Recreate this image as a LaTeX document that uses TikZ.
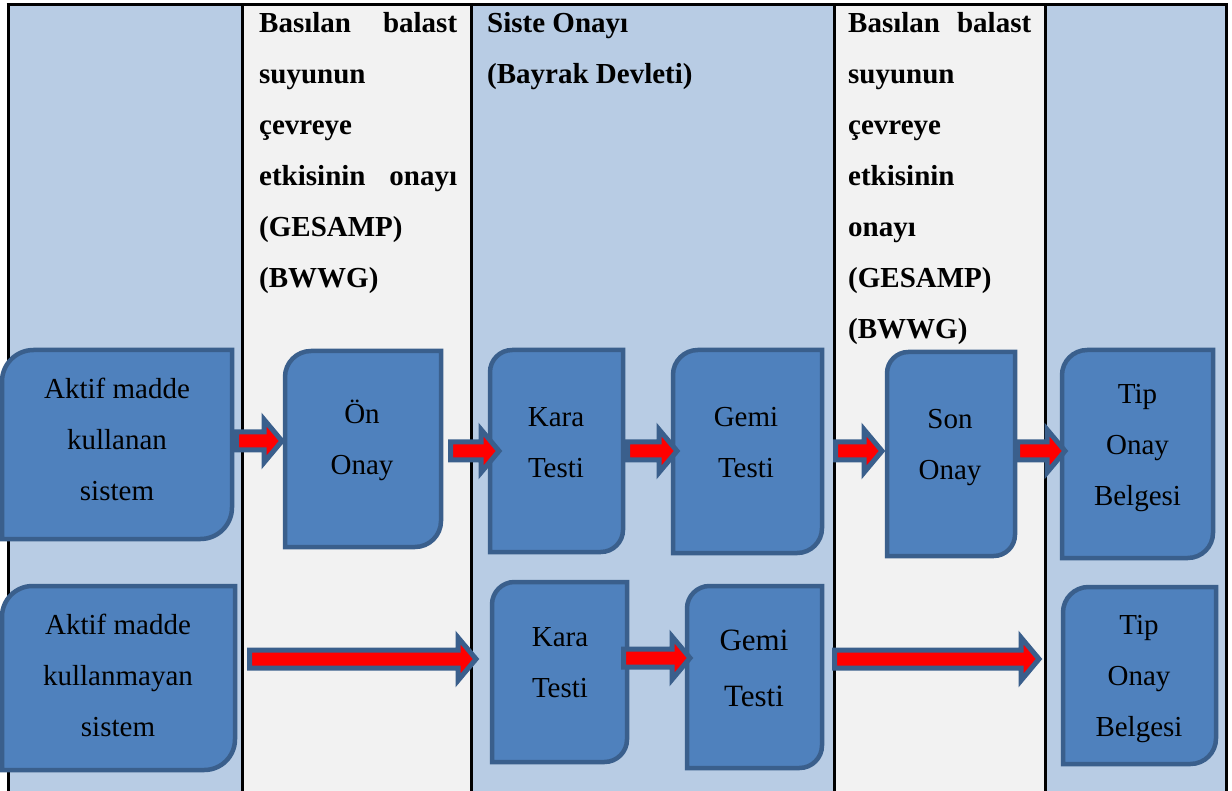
\documentclass[tikz,border=0pt]{standalone}
\usepackage{fontspec}
\setmainfont{Liberation Serif}
\usetikzlibrary{calc,fit}

\definecolor{laneblue}{HTML}{B8CCE4}
\definecolor{lanegrey}{HTML}{F2F2F2}
\definecolor{boxfill}{HTML}{4F81BD}
\definecolor{boxedge}{HTML}{3A5F8C}
\definecolor{arrowred}{HTML}{FF0000}

% centred and left-aligned line stacks; the node base is the first baseline
\newcommand\midstack[1]{\vtop{\lineskiplimit=-\maxdimen\halign{\hfil##\hfil\cr#1\crcr}}}
\newcommand\leftstack[1]{\vtop{\lineskiplimit=-\maxdimen\halign{##\hfil\cr#1\crcr}}}

\tikzset{
  boxgeom/.style={inner sep=0pt, outer sep=0pt},
  boxline/.style={draw=boxedge, fill=boxfill, line width=4.5pt},
  arrowline/.style={draw=boxedge, fill=arrowred, line width=5pt, line join=miter},
  boxtext/.style={inner sep=0pt, anchor=base, font=\fontsize{29pt}{51pt}\selectfont},
  headtext/.style={inner sep=0pt, anchor=base west, font=\fontsize{29pt}{51pt}\selectfont\bfseries},
  rule/.style={draw=black, line width=3pt},
}

% box with rounded top-left and bottom-right corners
\newcommand\flowbox[5]{%
  \pgfmathsetmacro\cornerr{min(#4-#2,#5-#3)/6}%
  \node[boxgeom, fit={(#2,#3) (#4,#5)}] (#1) {};
  \draw[boxline, rounded corners=\cornerr pt] (#1.north) -- (#1.north west) -- (#1.west)
    [sharp corners] -- (#1.south west) -- (#1.south)
    [rounded corners=\cornerr pt] -- (#1.south east) -- (#1.east)
    [sharp corners] -- (#1.north east) -- cycle;
}

% block arrow from a start point to a tip on the same level
\newcommand\blockarrow[2]{%
  \draw[arrowline] let \p1=#1, \p2=#2 in
    (\x1,\y1+9pt) -- (\x2-18pt,\y1+9pt) -- (\x2-18pt,\y1+21.5pt) -- (\x2,\y1)
    -- (\x2-18pt,\y1-21.5pt) -- (\x2-18pt,\y1-9pt) -- (\x1,\y1-9pt) -- cycle;
}

\begin{document}
\begin{tikzpicture}[x=1pt,y=-1pt]
\useasboundingbox (0,0) rectangle (1232,791);

% lanes
\fill[laneblue] (8,5) rectangle (242,791);
\fill[lanegrey] (242,5) rectangle (471,791);
\fill[laneblue] (471,5) rectangle (834,791);
\fill[lanegrey] (834,5) rectangle (1045,791);
\fill[laneblue] (1045,5) rectangle (1226,791);

% table rules
\draw[rule] (6.5,5) -- (1227.5,5);
\foreach \xx in {8,242,471,834,1045,1226}
  \draw[rule] (\xx,5) -- (\xx,791);

% lane headings
\node[headtext] (h1) at (259,33) {\leftstack{%
  \makebox[198pt][s]{Basılan balast}\cr suyunun\cr çevreye\cr
  \makebox[198pt][s]{etkisinin onayı}\cr (GESAMP)\cr (BWWG)}};
\node[headtext] (h2) at (487,33) {\leftstack{Siste Onayı\cr (Bayrak Devleti)}};
\node[headtext] (h3) at (848,33) {\leftstack{%
  \makebox[183pt][s]{Basılan balast}\cr suyunun\cr çevreye\cr etkisinin\cr
  onayı\cr (GESAMP)\cr (BWWG)}};

% first row
\flowbox{b1}{2}{350}{232}{539}
\flowbox{b2}{285}{351}{441}{547}
\flowbox{b3}{490}{350}{623}{552}
\flowbox{b4}{673}{350}{822}{553}
\flowbox{b5}{887}{352}{1015}{556}
\flowbox{b6}{1062}{350}{1213}{558}

% second row
\flowbox{c1}{2}{586}{235}{770}
\flowbox{c2}{492}{582}{627}{762}
\flowbox{c3}{687}{586}{822}{768}
\flowbox{c4}{1063}{587}{1216}{764}

% connectors, first row
\blockarrow{($(b1.east |- 0,441)+(4.5,0)$)}{($(b2.west |- 0,441)+(-3,0)$)}
\blockarrow{($(b2.east |- 0,451)+(9.5,0)$)}{($(b3.west |- 0,451)+(9,0)$)}
\blockarrow{($(b3.east |- 0,451)+(4.5,0)$)}{($(b4.west |- 0,451)+(4,0)$)}
\blockarrow{($(b4.east |- 0,451)+(13.5,0)$)}{($(b5.west |- 0,451)+(-5,0)$)}
\blockarrow{($(b5.east |- 0,451)+(2.5,0)$)}{($(b6.west |- 0,451)+(3,0)$)}

% connectors, second row
\blockarrow{($(c1.east |- 0,659)+(14.5,0)$)}{($(c2.west |- 0,659)+(-16,0)$)}
\blockarrow{($(c2.east |- 0,658)+(-3.5,0)$)}{($(c3.west |- 0,658)+(3,0)$)}
\blockarrow{($(c3.east |- 0,659)+(12.5,0)$)}{($(c4.west |- 0,659)+(-24,0)$)}

% box texts
\node[boxtext] (t1) at (117,399) {\midstack{Aktif madde\cr kullanan\cr sistem}};
\node[boxtext] (t2) at (362,424) {\midstack{Ön\cr Onay}};
\node[boxtext] (t3) at (556,427) {\midstack{Kara\cr Testi}};
\node[boxtext] (t4) at (746,427) {\midstack{Gemi\cr Testi}};
\node[boxtext] (t5) at (950,429) {\midstack{Son\cr Onay}};
\node[boxtext] (t6) at (1137.5,404) {\midstack{Tip\cr Onay\cr Belgesi}};

\node[boxtext] (u1) at (118,634) {\midstack{Aktif madde\cr kullanmayan\cr sistem}};
\node[boxtext] (u2) at (560,646) {\midstack{Kara\cr Testi}};
\node[boxtext, font=\fontsize{31pt}{56pt}\selectfont] (u3) at (754,650) {\midstack{Gemi\cr Testi}};
\node[boxtext] (u4) at (1139,634) {\midstack{Tip\cr Onay\cr Belgesi}};
\end{tikzpicture}
\end{document}
